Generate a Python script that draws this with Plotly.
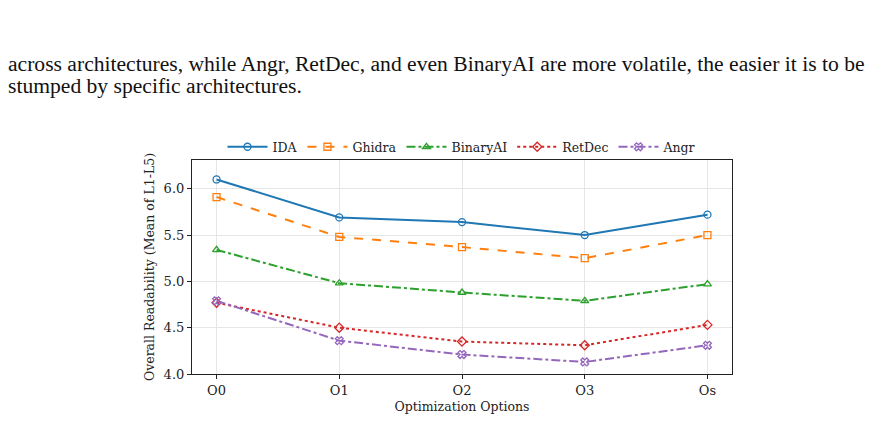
import plotly.graph_objects as go

categories = ["O0", "O1", "O2", "O3", "Os"]
ida = [6.10, 5.69, 5.64, 5.50, 5.72]
ghidra = [5.91, 5.48, 5.37, 5.25, 5.50]
binaryai = [5.34, 4.98, 4.88, 4.79, 4.97]
retdec = [4.77, 4.50, 4.35, 4.31, 4.53]
angr = [4.79, 4.36, 4.21, 4.13, 4.31]
y_ticks = [4.0, 4.5, 5.0, 5.5, 6.0]

series = [
    ("IDA", ida, "#1f77b4", "solid", "circle-open"),
    ("Ghidra", ghidra, "#ff7f0e", "dash", "square-open"),
    ("BinaryAI", binaryai, "#2ca02c", "dashdot", "triangle-up-open"),
    ("RetDec", retdec, "#d62728", "dot", "diamond-open"),
    ("Angr", angr, "#9467bd", "dashdot", "x-open"),
]

fig = go.Figure()
xs = list(range(len(categories)))
for name, vals, color, dash, sym in series:
    fig.add_trace(go.Scatter(
        x=xs, y=vals, name=name, mode="lines+markers",
        line=dict(color=color, width=2, dash=dash),
        marker=dict(symbol=sym, size=7, color=color, line=dict(width=1.3, color=color)),
    ))

L, R, T, B = 192, 144, 160, 45
serif = "DejaVu Serif"
fig.update_layout(
    width=876, height=423,
    margin=dict(l=L, r=R, t=T, b=B),
    paper_bgcolor="white", plot_bgcolor="white",
    font=dict(family=serif, size=12, color="#222"),
    showlegend=True,
    legend=dict(orientation="h", x=0.5, xanchor="center", y=0.99, yanchor="bottom",
                font=dict(family=serif, size=12.5, color="#222"),
                itemwidth=40, tracegroupgap=0, bgcolor="rgba(0,0,0,0)"),
    xaxis=dict(
        tickmode="array", tickvals=xs, ticktext=categories,
        range=[-0.2, 4.2], showgrid=True, gridcolor="#e6e6e6", gridwidth=1,
        showline=True, linecolor="#222", linewidth=1.2, mirror=True,
        ticks="outside", ticklen=4, tickcolor="#222", zeroline=False,
        title=dict(text="Optimization Options", font=dict(family=serif, size=12.5), standoff=5),
        tickfont=dict(family=serif, size=13),
    ),
    yaxis=dict(
        tickmode="array", tickvals=y_ticks, ticktext=[f"{v:.1f}" for v in y_ticks],
        range=[4.0, 6.31], showgrid=True, gridcolor="#e6e6e6", gridwidth=1,
        showline=True, linecolor="#222", linewidth=1.2, mirror=True,
        ticks="outside", ticklen=4, tickcolor="#222", zeroline=False,
        title=dict(text="Overall Readability (Mean of L1-L5)", font=dict(family=serif, size=12.5), standoff=6),
        tickfont=dict(family=serif, size=13),
    ),
)

pw = 876 - L - R
ph = 423 - T - B
def px(xp):
    return (xp - L) / pw
def py(yp):
    return (423 - B - yp) / ph

page_font = dict(family="Liberation Serif", size=21.6, color="#111")
fig.add_annotation(text="across architectures, while Angr, RetDec, and even BinaryAI are more volatile, the easier it is to be",
                   xref="paper", yref="paper", x=px(6), y=py(62), xanchor="left", yanchor="middle",
                   showarrow=False, font=page_font)
fig.add_annotation(text="stumped by specific architectures.",
                   xref="paper", yref="paper", x=px(6), y=py(85), xanchor="left", yanchor="middle",
                   showarrow=False, font=page_font)

fig.write_html("out.html")
